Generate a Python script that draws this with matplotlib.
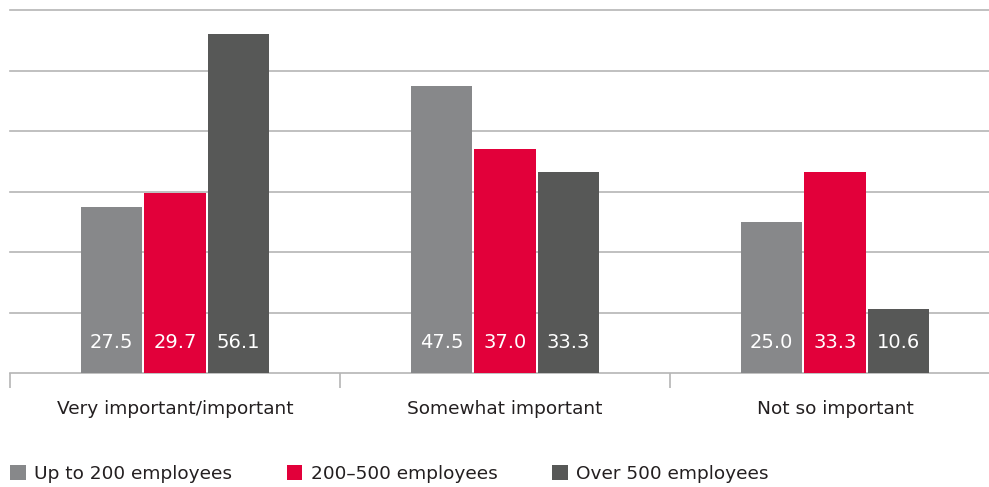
import matplotlib
matplotlib.use("Agg")
import matplotlib.pyplot as plt
import numpy as np
from matplotlib.patches import Patch

plt.rcParams['font.family'] = ['DejaVu Sans']

categories = ["Very important/important", "Somewhat important", "Not so important"]
series_names = ["Up to 200 employees", "200\u2013500 employees", "Over 500 employees"]
up_to_200 = [27.5, 47.5, 25.0]
from_200_to_500 = [29.7, 37.0, 33.3]
over_500 = [56.1, 33.3, 10.6]
colors = ["#87888a", "#e2003a", "#575857"]

fig = plt.figure(figsize=(9.89, 4.87), dpi=100)
W, H = 989, 487
# plot area: x from 10 px to 1000 px, y from 10 px to 373 px
ax = fig.add_axes([10 / W, (H - 373) / H, 990 / W, 363 / H])

x = np.arange(len(categories))
width = 0.185
step = 0.192
series = [up_to_200, from_200_to_500, over_500]
for i, (vals, c) in enumerate(zip(series, colors)):
    xs = x + (i - 1) * step
    ax.bar(xs, vals, width=width, color=c, zorder=3)
    for xi, v in zip(xs, vals):
        ax.text(xi, 5.0, f"{v:.1f}", color="white", ha="center", va="center",
                fontsize=14, zorder=4)

ax.set_xlim(-0.5, 2.5)
ax.set_ylim(0, 60)
ax.set_yticks(np.arange(10, 61, 10))
ax.yaxis.grid(True, color="#b5b5b5", linewidth=1.2, zorder=0)
for gl in ax.get_ygridlines():
    gl.set_clip_on(False)
ax.tick_params(axis="y", left=False, labelleft=False)

ax.set_xticks([-0.5, 0.5, 1.5, 2.5])
ax.set_xticklabels([])
ax.tick_params(axis="x", length=11, color="#b5b5b5", width=1.2)
for xi, lab in zip(x, categories):
    ax.text(xi, -6.0, lab, ha="center", va="center", fontsize=13.3, color="#231f20")

for s in ["top", "right", "left"]:
    ax.spines[s].set_visible(False)
ax.spines["bottom"].set_color("#b5b5b5")
ax.spines["bottom"].set_linewidth(1.2)

handles = [Patch(facecolor=c, edgecolor="none") for c in colors]
fig.legend(handles, series_names, ncol=3, loc="center left",
           bbox_to_anchor=(10 / W, (H - 474) / H), frameon=False,
           borderpad=0, borderaxespad=0,
           fontsize=13.3, handlelength=0.85, handleheight=0.85,
           handletextpad=0.46, columnspacing=2.95, labelcolor="#231f20")

fig.savefig("out.png", dpi=100)
